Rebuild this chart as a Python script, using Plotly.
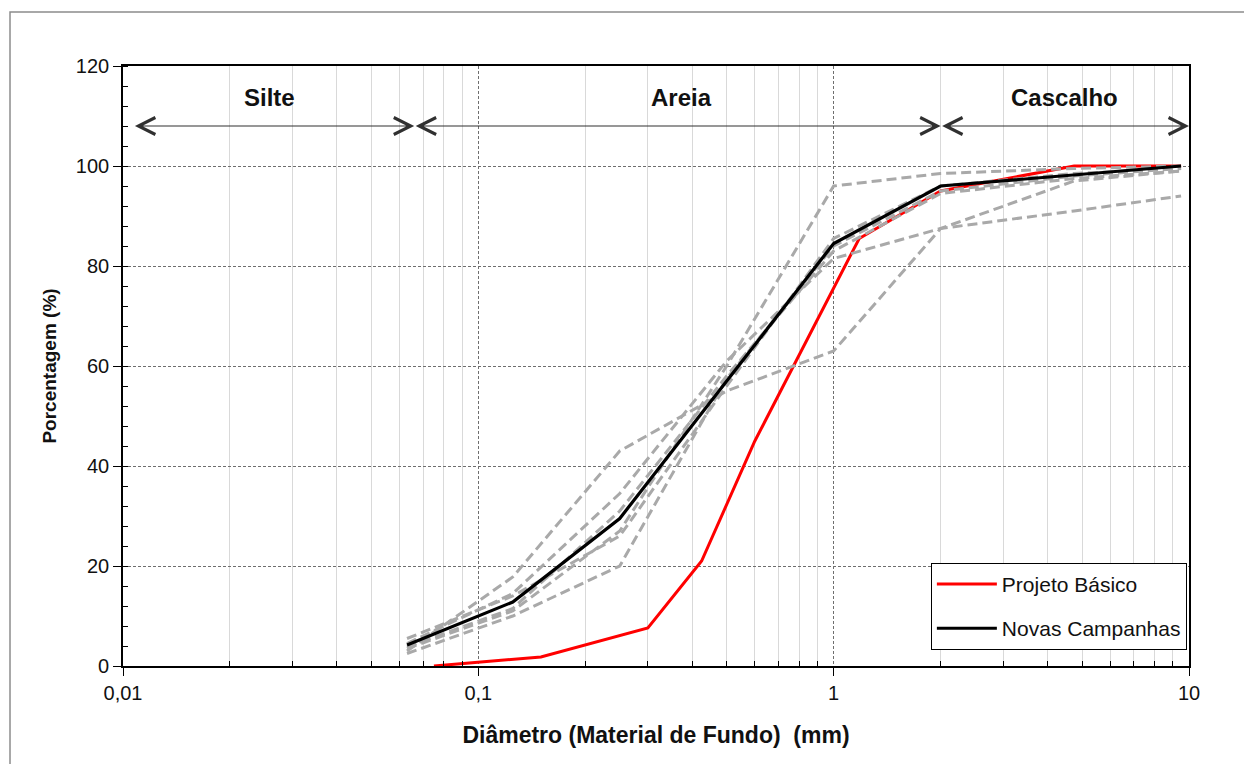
import numpy as np
import plotly.graph_objects as go

# Sieve openings (mm)
sieves = [0.063, 0.125, 0.25, 0.5, 1.0, 2.0, 4.75, 9.5]

# Individual samples of the new campaigns (% passing)
samples = [
    [3.5, 11.0, 27.0, 60.0, 96.0, 98.5, 99.5, 100.0],
    [3.0, 17.8, 43.0, 55.0, 63.0, 87.5, 97.0, 99.0],
    [4.5, 14.5, 34.5, 61.0, 81.5, 87.5, 91.0, 94.0],
    [2.5, 10.0, 20.0, 57.5, 84.0, 95.0, 98.0, 99.5],
    [5.5, 14.0, 26.0, 56.0, 85.5, 96.0, 98.5, 99.5],
    [3.8, 11.5, 31.0, 58.0, 83.0, 94.5, 97.5, 99.0],
]

# Mean curve of the new campaigns
novas_y = [4.2, 12.8, 29.5, 57.0, 84.5, 96.0, 98.3, 100.0]

# Basic design curve
basico_x = [0.075, 0.15, 0.3, 0.425, 0.6, 1.18, 2.0, 4.75, 9.5]
basico_y = [0.0, 1.8, 7.6, 21.0, 45.0, 85.5, 95.0, 100.0, 100.0]

# Grain-size classes (arrow limits in mm) and their labels
classes = [("Silte", 0.0107, 0.066), ("Areia", 0.066, 2.0), ("Cascalho", 2.0, 10.0)]
class_label_x = [0.0259, 0.373, 4.47]

x_ticks = [0.01, 0.1, 1, 10]
x_ticktext = ["0,01", "0,1", "1", "10"]

FONT = "Liberation Sans, Arial, sans-serif"

fig = go.Figure()

fig.add_trace(go.Scatter(
    x=basico_x, y=basico_y, mode="lines", name="Projeto Básico",
    line=dict(color="#FF0000", width=3), legendgroup="a",
))

for s in samples:
    fig.add_trace(go.Scatter(
        x=sieves, y=s, mode="lines", showlegend=False,
        line=dict(color="#A9A9A9", width=3, dash="10px,5px"),
        hoverinfo="skip",
    ))

fig.add_trace(go.Scatter(
    x=sieves, y=novas_y, mode="lines", name="Novas Campanhas",
    line=dict(color="#000000", width=3.2), legendgroup="b",
))

minor_x = [m * d for d in (0.01, 0.1, 1) for m in range(2, 10)]

fig.update_xaxes(
    type="log", range=[-2, 1],
    tickmode="array", tickvals=x_ticks, ticktext=x_ticktext,
    ticks="outside", ticklen=8, tickcolor="black", tickwidth=1,
    showgrid=True, gridcolor="#6e6e6e", griddash="3px,2px", gridwidth=1,
    minor=dict(tickmode="array", tickvals=minor_x, ticks="inside", ticklen=5,
               tickcolor="black", showgrid=True, gridcolor="#D9D9D9",
               griddash="solid", gridwidth=1),
    showline=True, linecolor="black", linewidth=1.6, mirror=True,
    tickfont=dict(family=FONT, size=20, color="#111"),
    title=dict(text="<b>Diâmetro (Material de Fundo) \u00a0(mm)</b>",
               font=dict(family=FONT, size=23, color="#111"), standoff=24),
    zeroline=False,
)

fig.update_yaxes(
    range=[0, 120], dtick=20, tick0=0,
    ticks="outside", ticklen=8, tickcolor="black", tickwidth=1,
    showgrid=True, gridcolor="#6e6e6e", griddash="3px,2px", gridwidth=1,
    minor=dict(dtick=4, ticks="inside", ticklen=5, tickcolor="black", showgrid=False),
    showline=True, linecolor="black", linewidth=1.6, mirror=True,
    tickfont=dict(family=FONT, size=20, color="#111"),
    title=dict(text="<b>Porcentagem (%)</b>",
               font=dict(family=FONT, size=19, color="#111"), standoff=14),
    zeroline=False,
)

# Class arrows and labels
for (name, lo, hi), lx in zip(classes, class_label_x):
    fig.add_annotation(
        x=np.log10(hi), y=108, ax=np.log10(lo), ay=108,
        xref="x", yref="y", axref="x", ayref="y",
        text="", showarrow=True, arrowside="end+start",
        arrowhead=5, startarrowhead=5, arrowsize=3, startarrowsize=3,
        arrowwidth=1.1, arrowcolor="#303030", standoff=0, startstandoff=0,
    )
    fig.add_annotation(
        x=np.log10(lx), y=113.8, xref="x", yref="y", text=f"<b>{name}</b>",
        showarrow=False, font=dict(family=FONT, size=24, color="#111"),
    )

# Outer chart frame
fig.add_shape(type="rect", xref="paper", yref="paper",
              x0=-0.106, x1=1.3, y0=-0.4, y1=1.09,
              line=dict(color="#8c8c8c", width=1.5), layer="below")

fig.update_layout(
    width=1244, height=764,
    margin=dict(l=123, r=55, t=66, b=98),
    paper_bgcolor="white", plot_bgcolor="white",
    font=dict(family=FONT, color="#111"),
    legend=dict(
        x=0.998, xanchor="right", y=0.027, yanchor="bottom",
        bgcolor="white", bordercolor="black", borderwidth=1,
        font=dict(family=FONT, size=21, color="#111"),
        tracegroupgap=14, traceorder="grouped", itemwidth=60,
        entrywidth=262,
    ),
    showlegend=True,
)

fig.write_html("out.html")
